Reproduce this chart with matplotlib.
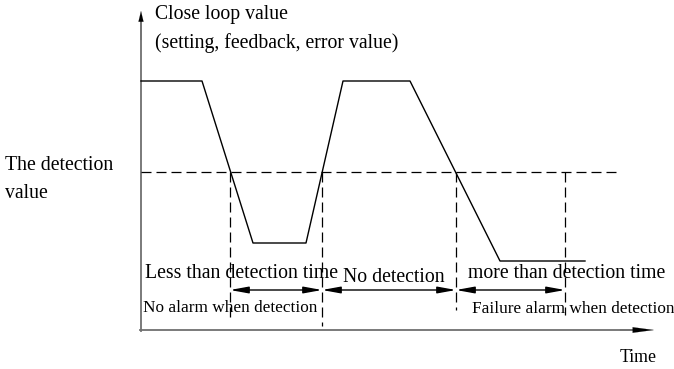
import matplotlib.pyplot as plt

plt.rcParams['font.family'] = ['Liberation Serif', 'DejaVu Serif']

# curve (time, value) in drawing units
curve_t = [141, 202, 253, 306, 343, 410, 500, 585]
curve_v = [81, 81, 243, 243, 81, 81, 261, 261]
threshold = 172
# crossing times and bottom ends of the dashed markers
mark_t = [230, 322, 456, 565]
mark_end = [318, 326, 310, 315]
dim_y = 290

fig = plt.figure(figsize=(6.74, 3.69), dpi=100)
ax = fig.add_axes([0, 0, 1, 1])
ax.set_xlim(0, 674)
ax.set_ylim(369, 0)
ax.axis('off')

# axes: grey lines, black arrow heads
ax.plot([141, 141], [20, 331], color='#707070', lw=1.3)
ax.plot([140, 640], [330, 330], color='#707070', lw=1.3)
ax.annotate('', xy=(141, 11), xytext=(141, 40),
            arrowprops=dict(arrowstyle='-|>,head_length=0.75,head_width=0.18',
                            color='black', lw=0.1, shrinkA=0, shrinkB=0))
ax.annotate('', xy=(654, 330), xytext=(620, 330),
            arrowprops=dict(arrowstyle='-|>,head_length=1.5,head_width=0.2',
                            color='black', lw=0.1, shrinkA=0, shrinkB=0))

ax.plot(curve_t, curve_v, color='black', lw=1.0)
ax.plot([141, 620], [threshold, threshold], color='black', lw=0.9,
        dashes=(8, 4))
for t, e in zip(mark_t, mark_end):
    ax.plot([t, t], [threshold, e], color='black', lw=0.9, dashes=(8, 4))

# dimension arrows
for a, b in zip(mark_t[:-1], mark_t[1:]):
    ax.annotate('', xy=(a, dim_y), xytext=(b, dim_y),
                arrowprops=dict(arrowstyle='<|-|>,head_length=1.1,head_width=0.2',
                                color='black', lw=1.0, shrinkA=0, shrinkB=0))

big = 14.2
small = 12.4
ax.text(155, 15, 'Close loop value', fontsize=big, va='center')
ax.text(155, 43, '(setting, feedback, error value)', fontsize=big, va='center')
ax.text(5, 165, 'The detection', fontsize=big, va='center')
ax.text(5, 193, 'value', fontsize=big, va='center')
ax.text(145, 273, 'Less than detection time', fontsize=big, va='center')
ax.text(343, 277, 'No detection', fontsize=big, va='center')
ax.text(468, 274, 'more than detection time', fontsize=big, va='center')
ax.text(143, 308, 'No alarm when detection', fontsize=small, va='center')
ax.text(472, 309, 'Failure alarm when detection', fontsize=small, va='center')
ax.text(620, 358, 'Time', fontsize=small + 0.4, va='center')

fig.savefig('out.png', dpi=100)
